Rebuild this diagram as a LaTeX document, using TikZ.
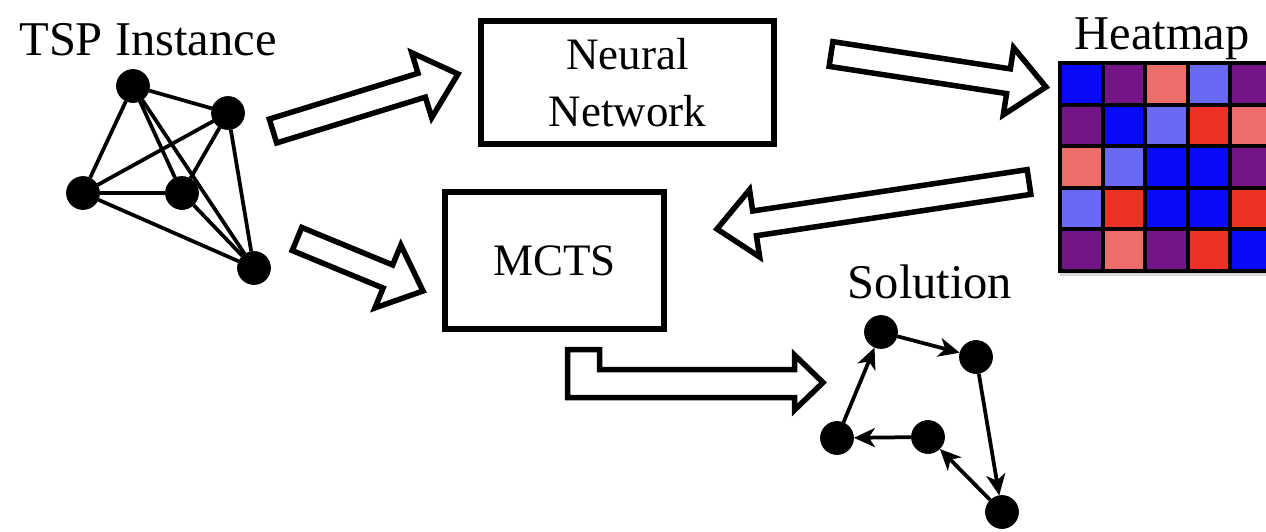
\documentclass[tikz,border=0pt]{standalone}
\usepackage{fontspec}
\setmainfont{Liberation Serif}
\usetikzlibrary{arrows.meta,calc,shadows}

\definecolor{hblue}{RGB}{10,10,250}
\definecolor{hpurple}{RGB}{115,20,135}
\definecolor{hsalmon}{RGB}{235,110,105}
\definecolor{hlight}{RGB}{105,105,245}
\definecolor{hred}{RGB}{235,50,35}

% hollow block arrow from #1 (tail) to #2 (tip)
\newcommand{\hollowarrow}[2]{%
\coordinate (hb) at ($(#2)!0.76cm!(#1)$);
\draw[fatline] ($(#1)!0.25cm!90:(#2)$) -- ($(hb)!0.25cm!90:(#2)$) -- ($(hb)!0.68cm!90:(#2)$) -- (#2)
  -- ($(hb)!0.68cm!-90:(#2)$) -- ($(hb)!0.25cm!-90:(#2)$) -- ($(#1)!0.25cm!-90:(#2)$) -- cycle;}

\begin{document}
\begin{tikzpicture}[%
x=0.02cm, y=-0.02cm, >={Stealth[length=0.42cm, width=0.38cm, inset=0.12cm]},
city/.style={draw, shape=circle, fill=black, inner sep=0pt, minimum size=0.66cm},
edge/.style={line width=0.075cm},
box/.style={draw, line width=0.12cm, inner sep=0pt, align=center, font=\fontsize{25.6}{32.4}\selectfont},
lbl/.style={anchor=base, font=\fontsize{27.6}{32}\selectfont},
fatline/.style={draw, line width=0.11cm, fill=white, line join=miter}]%Scale in pixels, styles for cities, boxes and block arrows
\useasboundingbox (0,0) rectangle (1266,531);
\clip (0,0) rectangle (1266,531);

% TSP instance
\node[lbl] (tsplbl) at (148,55) {TSP Instance};
\node[city] (a) at (133,86) {};
\node[city] (b) at (228,113) {};
\node[city] (c) at (83,193) {};
\node[city] (d) at (182,193) {};
\node[city] (e) at (254,268) {};
\foreach \i/\j in {a/b,a/c,a/d,a/e,b/c,b/d,b/e,c/d,c/e,d/e}
  \draw[edge] (\i) -- (\j);

% boxes
\node[box, minimum width=5.86cm, minimum height=2.46cm] (nn) at (627.5,82.5) {Neural\\Network};
\node[box, minimum width=4.38cm, minimum height=2.74cm] (mcts) at (554.5,260.5) {MCTS};

% heatmap
\node[lbl] (heatlbl) at (1162,49) {Heatmap};
\path[fill=white, drop shadow={shadow xshift=0pt, shadow yshift=-0.12cm, opacity=0.3}] (1060,63) rectangle (1290,270);
\foreach \row [count=\r from 0] in {{hblue,hpurple,hsalmon,hlight,hpurple},{hpurple,hblue,hlight,hred,hsalmon},{hsalmon,hlight,hblue,hblue,hpurple},{hlight,hred,hblue,hblue,hred},{hpurple,hsalmon,hpurple,hred,hblue}}
  \foreach \c [count=\k from 0] in \row
    \draw[fill=\c, line width=0.08cm] (1060+\k*42.5,63+\r*41.5) rectangle ++(42.5,41.5);

% solution tour
\node[lbl] (sollbl) at (930,298) {Solution};
\node[city] (s1) at (881,332) {};
\node[city] (s2) at (976,357) {};
\node[city] (s3) at (837,438) {};
\node[city] (s4) at (928,437) {};
\node[city] (s5) at (1002,512) {};
\draw[->, edge] (s1) -- (s2);
\draw[->, edge] (s2) -- (s5);
\draw[->, edge] (s5) -- (s4);
\draw[->, edge] (s4) -- (s3);
\draw[->, edge] (s3) -- (s1);

% block arrows
\coordinate (t1) at (273,131); \coordinate (n1) at (458,74);
\coordinate (t2) at (831,54);  \coordinate (n2) at (1046,87);
\coordinate (t3) at (1029,182); \coordinate (n3) at (717,229);
\coordinate (t4) at (297,239); \coordinate (n4) at (423,291);
\hollowarrow{t1}{n1}
\hollowarrow{t2}{n2}
\hollowarrow{t3}{n3}
\hollowarrow{t4}{n4}
\draw[fatline] (567.5,349.5) -- (599.5,349.5) -- (599.5,369.5) -- (794.5,369.5) -- (794.5,355)
  -- (823,382.5) -- (794.5,410) -- (794.5,397.5) -- (567.5,397.5) -- cycle;
\end{tikzpicture}
\end{document}
